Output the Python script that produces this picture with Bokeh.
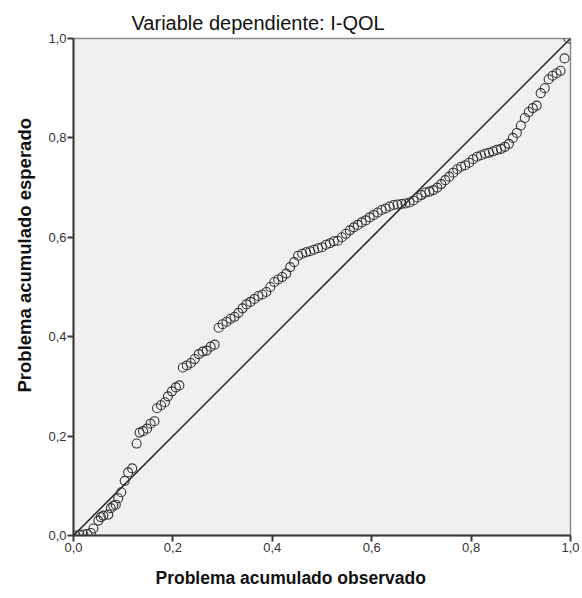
from bokeh.plotting import figure
from bokeh.models import Range1d, FixedTicker, CustomJSTickFormatter, Title
from bokeh.embed import file_html
from bokeh.resources import INLINE

# Observed cumulative probability (x) and expected cumulative probability (y)
observed = [0.004, 0.012, 0.020, 0.028, 0.035, 0.040, 0.050, 0.055, 0.060, 0.070,
            0.075, 0.080, 0.085, 0.090, 0.096, 0.103, 0.110, 0.118, 0.127, 0.133,
            0.140, 0.148, 0.155, 0.163, 0.168, 0.176, 0.184, 0.190, 0.198, 0.206,
            0.213, 0.220, 0.228, 0.236, 0.244, 0.252, 0.260, 0.268, 0.276, 0.284,
            0.292, 0.300, 0.308, 0.316, 0.324, 0.332, 0.340, 0.348, 0.356, 0.364,
            0.372, 0.380, 0.388, 0.396, 0.404, 0.412, 0.420, 0.428, 0.436, 0.444,
            0.452, 0.460, 0.468, 0.476, 0.484, 0.492, 0.500, 0.508, 0.516, 0.524,
            0.532, 0.540, 0.548, 0.556, 0.564, 0.572, 0.580, 0.588, 0.596, 0.604,
            0.612, 0.620, 0.628, 0.636, 0.644, 0.652, 0.660, 0.668, 0.676, 0.684,
            0.692, 0.700, 0.708, 0.716, 0.724, 0.732, 0.740, 0.748, 0.756, 0.764,
            0.772, 0.780, 0.788, 0.796, 0.804, 0.812, 0.820, 0.828, 0.836, 0.844,
            0.852, 0.860, 0.868, 0.876, 0.884, 0.892, 0.900, 0.908, 0.916, 0.924,
            0.932, 0.940, 0.948, 0.956, 0.964, 0.972, 0.980, 0.988, 0.996]
expected = [0.000, 0.001, 0.002, 0.003, 0.005, 0.014, 0.030, 0.037, 0.040, 0.042,
            0.055, 0.060, 0.062, 0.075, 0.087, 0.110, 0.127, 0.135, 0.185, 0.207,
            0.210, 0.215, 0.225, 0.230, 0.256, 0.262, 0.268, 0.280, 0.290, 0.298,
            0.302, 0.338, 0.342, 0.347, 0.355, 0.365, 0.370, 0.372, 0.380, 0.384,
            0.418, 0.425, 0.430, 0.436, 0.440, 0.448, 0.457, 0.465, 0.470, 0.476,
            0.482, 0.485, 0.490, 0.500, 0.510, 0.515, 0.520, 0.527, 0.540, 0.550,
            0.563, 0.567, 0.570, 0.572, 0.575, 0.578, 0.580, 0.585, 0.588, 0.592,
            0.593, 0.600, 0.607, 0.614, 0.620, 0.625, 0.630, 0.634, 0.640, 0.645,
            0.650, 0.655, 0.658, 0.662, 0.665, 0.666, 0.667, 0.668, 0.670, 0.674,
            0.680, 0.685, 0.690, 0.692, 0.695, 0.700, 0.707, 0.715, 0.722, 0.730,
            0.737, 0.742, 0.745, 0.750, 0.757, 0.762, 0.765, 0.768, 0.770, 0.773,
            0.776, 0.778, 0.782, 0.788, 0.800, 0.810, 0.825, 0.840, 0.852, 0.860,
            0.865, 0.890, 0.900, 0.918, 0.925, 0.930, 0.935, 0.960, 1.000]

ticks = [0.0, 0.2, 0.4, 0.6, 0.8, 1.0]
ref_line = [0.0, 1.0]

title_text = "Variable dependiente: I-QOL"
x_label = "Problema acumulado observado"
y_label = "Problema acumulado esperado"

p = figure(width=582, height=598, output_backend="svg", toolbar_location=None,
           x_range=Range1d(0, 1), y_range=Range1d(0, 1),
           min_border_left=72, min_border_right=12, min_border_top=38, min_border_bottom=63)

p.background_fill_color = "#f0f0f0"
p.border_fill_color = "white"
p.outline_line_color = "#8a8a8a"
p.outline_line_width = 1.5
p.xgrid.visible = False
p.ygrid.visible = False

fmt = CustomJSTickFormatter(code="return tick.toFixed(1).replace('.', ',');")
for ax in (p.xaxis[0], p.yaxis[0]):
    ax.ticker = FixedTicker(ticks=ticks)
    ax.formatter = fmt
    ax.axis_line_color = "#3a3a3a"
    ax.axis_line_width = 2
    ax.major_tick_line_color = "#3a3a3a"
    ax.major_tick_line_width = 2
    ax.major_tick_out = 6
    ax.major_tick_in = 0
    ax.minor_tick_line_color = None
    ax.major_label_text_font = "Liberation Sans"
    ax.major_label_text_font_size = "13px"
    ax.major_label_text_color = "#333333"
    ax.major_label_standoff = 1

p.line(ref_line, ref_line, line_color="#222222", line_width=1.5)
p.scatter(observed, expected, marker="circle", size=9, fill_color=None,
          line_color="#333333", line_width=1.1)

p.title.text = title_text
p.title.align = "left"
p.title.offset = 58
p.title.text_font = "Liberation Sans"
p.title.text_font_size = "20px"
p.title.text_font_style = "normal"
p.title.text_color = "#111111"
p.title.standoff = 10

xt = Title(text=x_label, align="left", offset=82, text_font="Liberation Sans",
           text_font_size="17.5px", text_font_style="bold", text_color="#111111",
           standoff=22)
p.add_layout(xt, "below")
yt = Title(text=y_label, align="left", offset=143, text_font="Liberation Sans",
           text_font_size="18.5px", text_font_style="bold", text_color="#111111",
           standoff=22)
p.add_layout(yt, "left")

open("out.html", "w").write(file_html(p, INLINE))
